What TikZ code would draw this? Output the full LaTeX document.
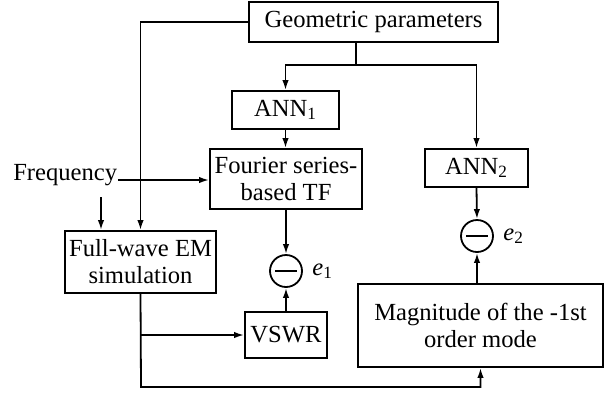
\documentclass[tikz,border=0pt]{standalone}
\usepackage{fontspec}
\setmainfont{Liberation Serif}
\usetikzlibrary{positioning,arrows.meta}

\begin{document}
\begin{tikzpicture}[x=0.5pt,y=-0.5pt,line width=0.9pt,>={Latex[length=5pt,width=3.2pt]}]
            \tikzset{
                blockbox/.style={draw,align=center,inner sep=0pt,font=\fontsize{12.3}{13.5}\selectfont},
                minusnode/.style={draw,circle,minimum size=16pt,inner sep=0pt,
                    path picture={\draw ([xshift=-5.5pt]path picture bounding box.center) -- ([xshift=5.5pt]path picture bounding box.center);}},}
            \useasboundingbox (0,0) rectangle (606,393);
            \node [blockbox,minimum width=124.5pt,minimum height=20pt] (geom) at (373.5,22) {Geometric parameters};
            \node [blockbox,minimum width=53.5pt,minimum height=19pt] (ann1) at (285.5,110) {ANN\textsubscript{1}};
            \node [blockbox,minimum width=76pt,minimum height=30pt] (four) at (286,179) {Fourier series-\\based TF};
            \node [blockbox,minimum width=51.5pt,minimum height=19pt] (ann2) at (476.5,168) {ANN\textsubscript{2}};
            \node [blockbox,minimum width=75.5pt,minimum height=31pt] (full) at (140.5,262) {Full-wave EM\\simulation};
            \node [blockbox,minimum width=41pt,minimum height=23pt] (vswr) at (286,335) {VSWR};
            \node [blockbox,minimum width=122.5pt,minimum height=41.5pt] (mag) at (480.5,325.5) {Magnitude of the -1st\\order mode};
            \node [minusnode,label={[font=\fontsize{12.3}{13.5}\selectfont,xshift=1pt]right:\textit{e}\textsubscript{1}}] (e1) at (286,271) {};
            \node [minusnode,label={[font=\fontsize{12.3}{13.5}\selectfont,xshift=1pt]right:\textit{e}\textsubscript{2}}] (e2) at (477,236) {};
            \node [anchor=base east,inner sep=0pt,font=\fontsize{12.3}{13.5}\selectfont] (freq) at (118,180) {Frequency};
            \coordinate (split) at (356,65);
            \coordinate (fdown) at (101,197);
            \coordinate (low) at (141,387);
            % geometric parameters
            \draw [->] (geom.west) -| (full.north);
            \draw (geom.south -| split) -- (split);
            \draw [->] (split) -| (ann1.north);
            \draw [->] (split) -| (ann2.north);
            % frequency
            \draw [->] (freq.base east) -- (freq.base east -| four.west);
            \draw [->] (fdown) -- (fdown |- full.north);
            \draw [->] (ann1.south) -- (ann1.south |- four.north);
            \draw [->] (four.south) -- (e1.north);
            \draw [->] (vswr.north) -- (e1.south);
            \draw [->] (ann2.south) -- (e2.north);
            \draw [->] (e2.south |- mag.north) -- (e2.south);
            % EM simulation outputs
            \draw [->] (full.south) -- (low) -| (mag.south);
            \draw [->] (full.south |- vswr.west) -- (vswr.west);
        \end{tikzpicture}
\end{document}
